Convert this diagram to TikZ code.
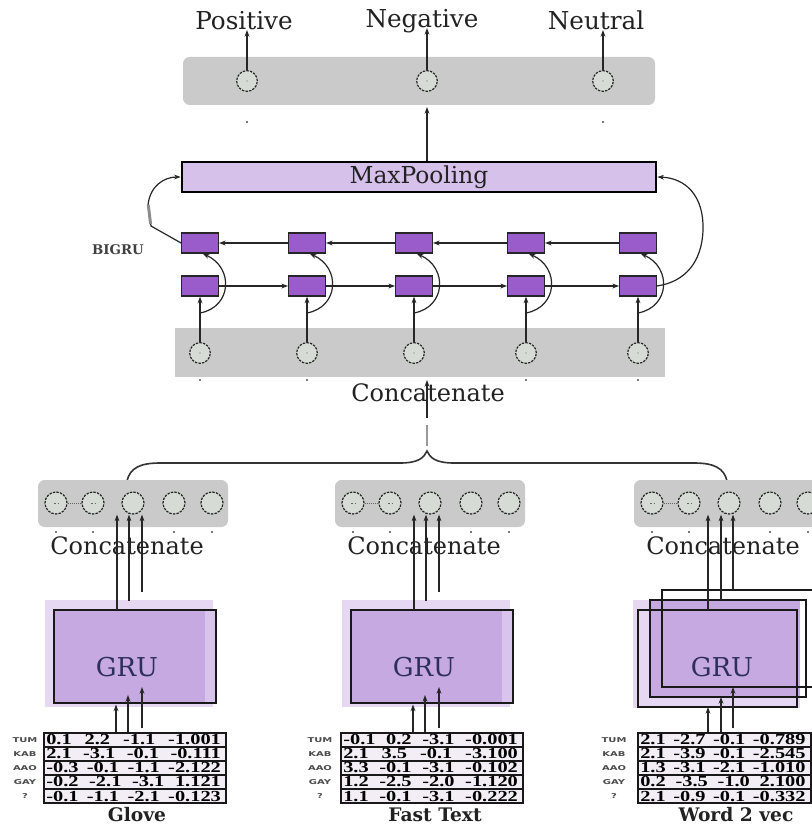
\documentclass[tikz,border=0pt]{standalone}
\usepackage{fontspec}
\setmainfont{DejaVu Serif}
\newfontfamily\tabfont[FakeStretch=1.33]{Liberation Serif}
\newfontfamily\rlfont[FakeStretch=1.5]{DejaVu Sans}
\usetikzlibrary{arrows.meta,calc}
\definecolor{gboxc}{HTML}{CACACA}
\definecolor{cfill}{HTML}{D6DBD6}
\definecolor{mpfill}{HTML}{D5C1EA}
\definecolor{cellfill}{HTML}{9B5CCB}
\definecolor{grufill}{HTML}{C6A9E0}
\definecolor{grulight}{HTML}{E6D8F3}
\definecolor{tabfill}{HTML}{F3EDF5}
\definecolor{txt}{HTML}{222222}
\definecolor{grutxt}{HTML}{2E2E5C}
\newcommand\trow[4]{\hbox to 131pt{#1\hfil #2\hfil #3\hfil #4}}
\newcommand\trowb[4]{\hbox to 124pt{#1\hfil #2\hfil #3\hfil #4}}
\tikzset{
  lab/.style={font=\fontsize{18.5}{20}\selectfont, text=txt, inner sep=0pt},
  circ/.style={circle, draw=black!85, dash pattern=on 1.8pt off 0.9pt, line width=0.9pt, fill=cfill, minimum size=15.5pt, inner sep=0pt},
  cdot/.style={path picture={\fill[black!60] (path picture bounding box.center) circle (0.5pt);}},
  cdash/.style={path picture={\draw[black!60, line width=0.5pt] ([xshift=-1.5pt]path picture bounding box.center) -- ([xshift=1.5pt]path picture bounding box.center);}},
  cell/.style={draw=black!85, line width=0.9pt, fill=cellfill, minimum width=27.5pt, minimum height=15pt, inner sep=0pt},
  arr/.style={-{Stealth[length=5pt,width=3.6pt]}, line width=0.9pt, draw=black!85},
  dotm/.style={circle, fill=black!70, inner sep=0pt, minimum size=1.8pt},
  trowst/.style={font=\tabfont\bfseries\fontsize{11.5}{11.5}\selectfont, inner sep=0pt, anchor=west},
  rlab/.style={font=\rlfont\bfseries\fontsize{5}{5}\selectfont, text=black!70, inner sep=0pt},
  capt/.style={font=\bfseries\fontsize{14}{15}\selectfont, text=txt, inner sep=0pt},
  grulab/.style={font=\fontsize{19.5}{21}\selectfont, text=grutxt, inner sep=0pt},
  tabline/.style={line width=1.2pt, draw=black!90},
  conc/.style={font=\fontsize{18}{20}\selectfont, text=txt, inner sep=0pt},
}
\begin{document}
\begin{tikzpicture}[x=0.75pt,y=-0.75pt]
\useasboundingbox (0,0) rectangle (812,827);
\fill[white] (0,0) rectangle (812,827);

% ---------- output layer ----------
\fill[gboxc, rounded corners=5pt] (183,57) rectangle (655,105);
\node[circ, cdot] (o1) at (247,81) {};
\node[circ, cdot] (o2) at (427,81) {};
\node[circ, cdot] (o3) at (603,81) {};
\node[lab, anchor=base] (pos) at (244,30) {Positive};
\node[lab, anchor=base] (neg) at (422,28) {Negative};
\node[lab, anchor=base] (neu) at (596,30) {Neutral};
\draw[arr] (o1.north) -- (o1.north |- pos.base);
\draw[arr] (o2.north) -- (o2.north |- neg.base);
\draw[arr] (o3.north) -- (o3.north |- neu.base);
\node[dotm] (od1) at (247,122) {};
\node[dotm] (od2) at (427,122) {};
\node[dotm] (od3) at (603,122) {};

% ---------- max pooling ----------
\node[draw=black, line width=1.5pt, fill=mpfill, minimum width=356pt, minimum height=22.5pt, inner sep=0pt,
      font=\fontsize{17.5}{18}\selectfont, text=txt] (mp) at (419,177) {MaxPooling};
\coordinate (topin) at (427,107);
\draw[arr] (mp.north -| topin) -- (topin);

% ---------- BiGRU ----------
\fill[gboxc] (175,328) rectangle (665,377);
\foreach \i/\x in {1/200,2/307,3/414,4/526,5/638} {
  \node[cell] (t\i) at (\x,243) {};
  \node[cell] (b\i) at (\x,286) {};
  \node[circ, cdot] (m\i) at (\x,353) {};
  \draw[arr] (m\i.north) -- (b\i.south);
  \coordinate (j\i) at (\x,313);
  \draw[arr] (j\i) .. controls ($(j\i)+(32,-6)$) and ($(t\i.south)+(34,14)$) .. ([xshift=2pt]t\i.south);
}
\foreach \i in {1,2,4,5} { \node[dotm] (md\i) at ($(m\i)+(0,27)$) {}; }
\foreach \i/\n in {1/2,2/3,3/4,4/5} {
  \draw[arr] (b\i.east) -- (b\n.west);
  \draw[arr] (t\n.west) -- (t\i.east);
}
\node[font=\bfseries\fontsize{10}{10}\selectfont, text=black!75, inner sep=0pt] (bigru) at (118,250) {BIGRU};
\draw[arr] (t1.west) -- (151,226) -- (148,205) .. controls (150,186) and (164,177) .. (mp.west);
\draw[black!45, line width=2.2pt] (148.3,205) -- (150.6,224);
\draw[arr] (b5.east) .. controls (685,282) and (702,262) .. (703,230) .. controls (704,195) and (685,178) .. (mp.east);

% ---------- concatenate (middle) ----------
\node[conc] (concat) at (428,393) {Concatenate};
\coordinate (midbot) at (427,380);
\coordinate (cc1) at (427,418);
\draw[arr] (cc1) -- (midbot);
\draw[black!40, line width=2.2pt] (427,425) -- (427,446);
\draw[line width=1.2pt, black!80] (127,481) .. controls (130,468) and (140,463) .. (160,463) -- (400,463)
   .. controls (418,463) and (424,458) .. (427,451) .. controls (430,458) and (436,463) .. (454,463)
   -- (694,463) .. controls (714,463) and (724,468) .. (727,481);

% ---------- lower columns: embeddings layer ----------
\foreach \d/\k in {0/1,297/2,596/3} {
  \fill[gboxc, rounded corners=5pt] (38+\d,480) rectangle (228+\d,527);
  \node[circ, cdash, minimum size=16.5pt] (q\k-1) at (56+\d,503) {};
  \node[circ, cdash, minimum size=16.5pt] (q\k-2) at (93+\d,503) {};
  \node[circ, minimum size=16.5pt] (q\k-3) at (133+\d,503) {};
  \node[circ, minimum size=16.5pt] (q\k-4) at (174+\d,503) {};
  \node[circ, minimum size=16.5pt] (q\k-5) at (212+\d,503) {};
  \draw[black!60, densely dotted, line width=0.6pt] (q\k-1.east) -- (q\k-2.west);
  \foreach \xx/\m in {56/1,93/2,174/4,212/5} { \node[dotm] (qd\k-\m) at (\xx+\d,532) {}; }
  \node[conc] (cc\k) at (127+\d,546) {Concatenate};
}

% ---------- GRU columns 1 and 2 ----------
\foreach \d/\k in {0/1,297/2} {
  \fill[grulight] (45+\d,600) rectangle (213+\d,707);
  \node[draw=black!90, line width=1pt, fill=grufill, minimum width=121.5pt, minimum height=69.75pt, inner sep=0pt] (gru\k) at (135+\d,656.5) {};
  \fill[grulight!60!grufill] (205+\d,611) rectangle (215+\d,702);
  \draw[black!90, line width=1pt] (gru\k.north west) rectangle (gru\k.south east);
  \node[grulab] (grut\k) at (127+\d,667) {GRU};
  \coordinate (ua\k) at (117+\d,610);
  \coordinate (ub\k) at (129+\d,601);
  \coordinate (uc\k) at (142+\d,592);
  \draw[arr] (ua\k) -- (ua\k |- q\k-3.south);
  \draw[arr] (ub\k) -- (ub\k |- q\k-3.south);
  \draw[arr] (uc\k) -- (uc\k |- q\k-3.south);
  \coordinate (la\k) at (116+\d,733);
  \coordinate (lb\k) at (128+\d,733);
  \coordinate (lc\k) at (142+\d,728);
  \draw[arr] (la\k) -- (116+\d,704.5);
  \draw[arr] (lb\k) -- (128+\d,695);
  \draw[arr] (lc\k) -- (142+\d,687);
}

% ---------- GRU column 3 (stacked) ----------
\fill[grulight] (633,600) rectangle (800,708);
\fill[grufill] (650,600) rectangle (800,697);
\node[draw=black!90, line width=1pt, minimum width=119.25pt, minimum height=72.75pt, inner sep=0pt] (gru3) at (717.5,658.5) {};
\draw[black!90, line width=1pt] (650,600) rectangle (806,697);
\draw[black!90, line width=1pt] (662,590) rectangle (815,687);
\node[grulab] (grut3) at (722,667) {GRU};
\coordinate (ua3) at (708,610);
\coordinate (ub3) at (721,600);
\coordinate (uc3) at (733,590);
\draw[arr] (ua3) -- (ua3 |- q3-3.south);
\draw[arr] (ub3) -- (ub3 |- q3-3.south);
\draw[arr] (uc3) -- (uc3 |- q3-3.south);
\coordinate (la3) at (708,733);
\coordinate (lb3) at (721,733);
\coordinate (lc3) at (733,728);
\draw[arr] (la3) -- (708,707);
\draw[arr] (lb3) -- (721,697);
\draw[arr] (lc3) -- (733,687);

% ---------- tables ----------
\foreach \tx/\tw in {44/182,341/182,638/173} {
  \draw[tabline, fill=tabfill] (\tx,733) rectangle (\tx+\tw,803);
  \foreach \yy in {747,761,775,789} { \draw[tabline] (\tx,\yy) -- (\tx+\tw,\yy); }
}
\foreach \rx/\k in {25/1,320/2,614/3} {
  \node[rlab] (rl\k-1) at (\rx,740) {TUM};
  \node[rlab] (rl\k-2) at (\rx,754) {KAB};
  \node[rlab] (rl\k-3) at (\rx,768) {AAO};
  \node[rlab] (rl\k-4) at (\rx,782) {GAY};
  \node[rlab] (rl\k-5) at (\rx,796) {?};
}
% Glove
\node[trowst] (g1) at (46,740) {\trow{0.1}{2.2}{-1.1}{-1.001}};
\node[trowst] (g2) at (46,754) {\trow{2.1}{-3.1}{-0.1}{-0.111}};
\node[trowst] (g3) at (46,768) {\trow{-0.3}{-0.1}{-1.1}{-2.122}};
\node[trowst] (g4) at (46,782) {\trow{-0.2}{-2.1}{-3.1}{1.121}};
\node[trowst] (g5) at (46,796) {\trow{-0.1}{-1.1}{-2.1}{-0.123}};
% FastText
\node[trowst] (f1) at (343,740) {\trow{-0.1}{0.2}{-3.1}{-0.001}};
\node[trowst] (f2) at (343,754) {\trow{2.1}{3.5}{-0.1}{-3.100}};
\node[trowst] (f3) at (343,768) {\trow{3.3}{-0.1}{-3.1}{-0.102}};
\node[trowst] (f4) at (343,782) {\trow{1.2}{-2.5}{-2.0}{-1.120}};
\node[trowst] (f5) at (343,796) {\trow{1.1}{-0.1}{-3.1}{-0.222}};
% Word2vec
\node[trowst] (w1) at (640,740) {\trowb{2.1}{-2.7}{-0.1}{-0.789}};
\node[trowst] (w2) at (640,754) {\trowb{2.1}{-3.9}{-0.1}{-2.545}};
\node[trowst] (w3) at (640,768) {\trowb{1.3}{-3.1}{-2.1}{-1.010}};
\node[trowst] (w4) at (640,782) {\trowb{0.2}{-3.5}{-1.0}{2.100}};
\node[trowst] (w5) at (640,796) {\trowb{2.1}{-0.9}{-0.1}{-0.332}};

\node[capt] (cap1) at (137,815) {Glove};
\node[capt] (cap2) at (435,815) {Fast Text};
\node[capt] (cap3) at (736,815) {Word 2 vec};
\end{tikzpicture}
\end{document}
